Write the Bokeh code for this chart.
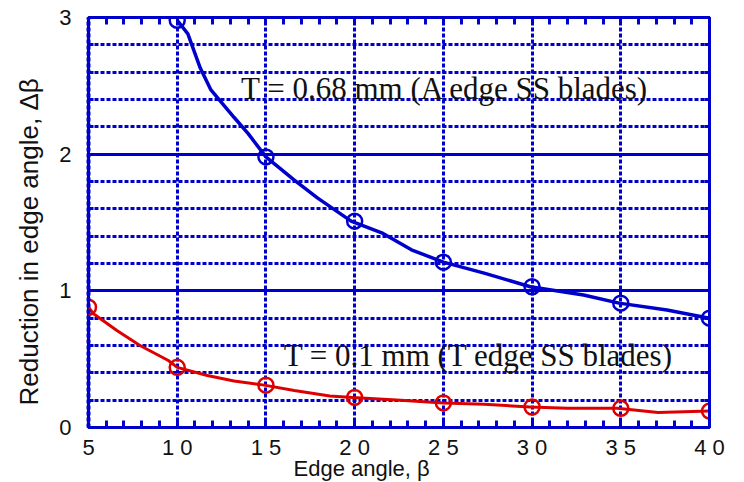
from bokeh.plotting import figure
from bokeh.models import Range1d, FixedTicker, LinearAxis, Title
from bokeh.core.properties import value
from bokeh.embed import file_html
from bokeh.resources import INLINE

# ---- data ----
angles = [5, 10, 15, 20, 25, 30, 35, 40]
blue_angles = [10, 15, 20, 25, 30, 35, 40]
blue_marks = [2.98, 1.98, 1.51, 1.21, 1.03, 0.91, 0.80]
red_marks = [0.88, 0.44, 0.31, 0.22, 0.18, 0.15, 0.14, 0.12]

blue_curve_x = [10, 10.6, 11.3, 11.9, 13.2, 14.0, 15.0, 16.6, 17.9, 19.8, 21.6, 23.2, 25.0, 27.3, 29.9, 32.9, 34.9, 37.6, 40.0]
blue_curve_y = [2.98, 2.88, 2.63, 2.47, 2.27, 2.15, 1.98, 1.81, 1.68, 1.51, 1.42, 1.30, 1.21, 1.13, 1.03, 0.97, 0.91, 0.86, 0.80]

red_curve_x = [5.0, 5.3, 6.6, 7.9, 9.5, 10.0, 11.7, 13.2, 14.9, 16.6, 18.6, 19.9, 22.6, 25.0, 27.3, 29.9, 32.0, 34.8, 37.1, 40.0]
red_curve_y = [0.88, 0.83, 0.71, 0.60, 0.49, 0.44, 0.38, 0.34, 0.31, 0.27, 0.23, 0.22, 0.20, 0.18, 0.17, 0.15, 0.14, 0.14, 0.11, 0.12]

x_ticks = [5, 10, 15, 20, 25, 30, 35, 40]
x_tick_labels = ["5", "1 0", "1 5", "2 0", "2 5", "3 0", "3 5", "4 0"]
y_ticks = [0, 1, 2, 3]
y_tick_labels = ["0", "1", "2", "3"]

x_title = "Edge angle, \u03b2"
y_title = "Reduction in edge angle, \u0394\u03b2"
label_blue = "T = 0.68 mm (A edge SS blades)"
label_red = "T = 0.1 mm (T edge SS blades)"

BLUE = "#0000CC"
RED = "#DD0000"
TXT = "#111111"

p = figure(width=744, height=482, output_backend="svg", toolbar_location=None,
           x_range=Range1d(5, 40), y_range=Range1d(0, 3),
           min_border_left=88, min_border_right=35, min_border_top=17, min_border_bottom=55)
p.outline_line_color = BLUE
p.outline_line_width = 3
p.background_fill_color = "white"
p.border_fill_color = "white"

x_minor = [v for v in range(5, 41) if v % 5 != 0]
y_minor = [round(0.2 * i, 1) for i in range(1, 15) if i % 5 != 0]

# grids
p.xgrid.ticker = FixedTicker(ticks=[10, 15, 20, 25, 30, 35])
p.xgrid.grid_line_color = BLUE
p.xgrid.grid_line_width = 3
p.xgrid.grid_line_dash = "4 2"
p.ygrid.ticker = FixedTicker(ticks=[1, 2], minor_ticks=y_minor)
p.ygrid.grid_line_color = BLUE
p.ygrid.grid_line_width = 3
p.ygrid.minor_grid_line_color = BLUE
p.ygrid.minor_grid_line_width = 3
p.ygrid.minor_grid_line_dash = "4 2"

label_font = "Liberation Sans"

# bottom axis
xa = p.xaxis[0]
xa.ticker = FixedTicker(ticks=x_ticks, minor_ticks=x_minor)
xa.major_label_overrides = {t: l for t, l in zip(x_ticks, x_tick_labels)}
xa.axis_line_color = BLUE
xa.axis_line_width = 3
xa.major_tick_line_color = BLUE
xa.minor_tick_line_color = BLUE
xa.major_tick_line_width = 3
xa.minor_tick_line_width = 3
xa.major_tick_in = 7
xa.major_tick_out = 0
xa.minor_tick_in = 7
xa.minor_tick_out = 0
xa.major_label_standoff = 7
xa.major_label_text_font = label_font
xa.major_label_text_font_size = "22px"
xa.major_label_text_color = TXT

# left axis
ya = p.yaxis[0]
ya.ticker = FixedTicker(ticks=y_ticks, minor_ticks=y_minor)
ya.major_label_overrides = {t: l for t, l in zip(y_ticks, y_tick_labels)}
ya.axis_line_color = BLUE
ya.axis_line_width = 4
ya.axis_line_dash = "4 2"
ya.major_tick_line_color = BLUE
ya.minor_tick_line_color = BLUE
ya.major_tick_line_width = 3
ya.minor_tick_line_width = 3
ya.major_tick_in = 0
ya.major_tick_out = 0
ya.minor_tick_in = 5
ya.minor_tick_out = 0
ya.major_label_standoff = 17
ya.major_label_text_font = label_font
ya.major_label_text_font_size = "22px"
ya.major_label_text_color = TXT

# top axis (ticks only)
ta = LinearAxis(ticker=FixedTicker(ticks=x_ticks, minor_ticks=x_minor),
                major_label_overrides={t: "" for t in x_ticks},
                axis_line_color=BLUE, axis_line_width=3,
                major_tick_line_color=BLUE, minor_tick_line_color=BLUE,
                major_tick_line_width=3, minor_tick_line_width=3,
                major_tick_in=7, major_tick_out=0, minor_tick_in=7, minor_tick_out=0,
                major_label_standoff=0)
p.add_layout(ta, "above")

# right axis (ticks only)
ra = LinearAxis(ticker=FixedTicker(ticks=y_ticks, minor_ticks=y_minor),
                major_label_overrides={t: "" for t in y_ticks},
                axis_line_color=BLUE, axis_line_width=3,
                major_tick_line_color=BLUE, minor_tick_line_color=BLUE,
                major_tick_line_width=3, minor_tick_line_width=3,
                major_tick_in=5, major_tick_out=0, minor_tick_in=5, minor_tick_out=0,
                major_label_standoff=0)
p.add_layout(ra, "right")

# curves
p.line(blue_curve_x, blue_curve_y, line_color=BLUE, line_width=3.5)
p.scatter(blue_angles, blue_marks, marker="circle", size=15, line_color=BLUE,
          line_width=2.5, fill_color=None)
p.line(red_curve_x, red_curve_y, line_color=RED, line_width=3)
p.scatter(angles, red_marks, marker="circle", size=15, line_color=RED,
          line_width=2.5, fill_color=None)

# in-plot labels
p.text(x=[13.6], y=[2.48], text=[label_blue], text_font=value("Liberation Serif"),
       text_font_size="31px", text_color=TXT, text_align="left", text_baseline="middle")
p.text(x=[16.0], y=[0.53], text=[label_red], text_font=value("Liberation Serif"),
       text_font_size="31px", text_color=TXT, text_align="left", text_baseline="middle")

# axis titles (as Titles so that they can sit off-centre)
p.add_layout(Title(text=x_title, align="left", offset=205, standoff=-18,
                   text_font=label_font, text_font_size="22px", text_font_style="normal",
                   text_color=TXT), "below")
p.add_layout(Title(text=y_title, align="left", offset=22, standoff=21,
                   vertical_align="top",
                   text_font=label_font, text_font_size="26px", text_font_style="normal",
                   text_color=TXT), "left")

open("out.html", "w").write(file_html(p, INLINE))
